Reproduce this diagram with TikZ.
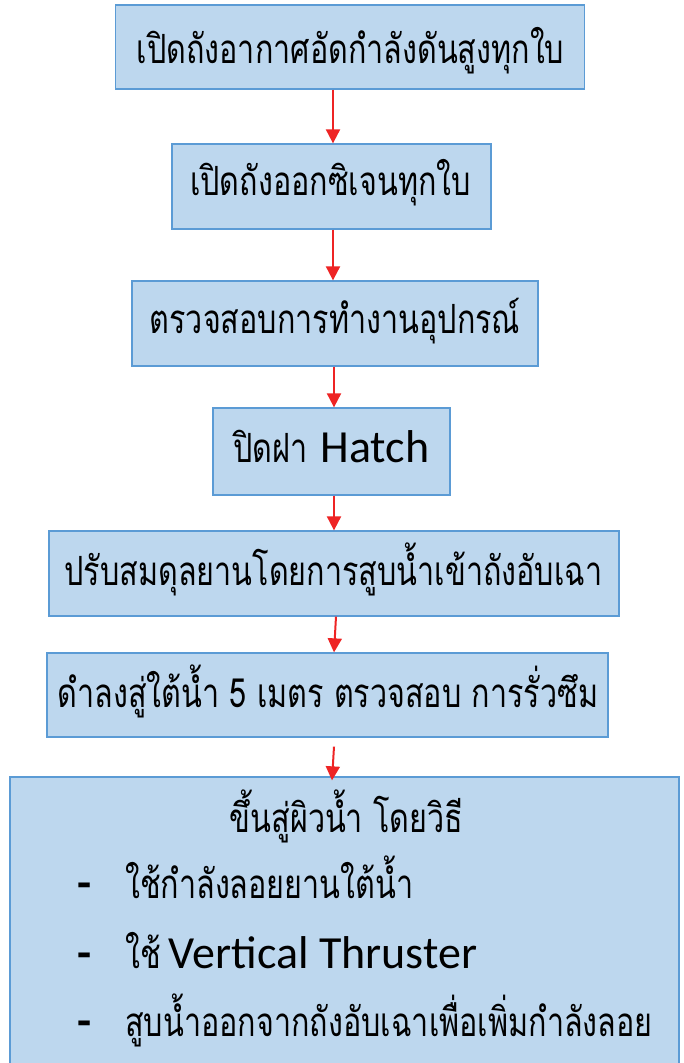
\documentclass[tikz,border=0pt]{standalone}
\usepackage{fontspec}
\setmainfont{Carlito}
\newfontfamily\thai[Script=Thai]{Loma}
\newfontfamily\lat{Carlito}
\usetikzlibrary{arrows.meta}
\definecolor{boxfill}{HTML}{BDD7EE}
\definecolor{boxline}{HTML}{5B9BD5}
\definecolor{arrred}{HTML}{EE2424}
\tikzset{
  flowbox/.style={draw=boxline, line width=1.3pt, fill=boxfill, rectangle, inner sep=0pt},
  txt/.style={anchor=base, inner sep=0pt, text=black},
  arr/.style={draw=arrred, line width=2pt, -{Triangle[length=14pt,width=14pt]}},
}
\newcommand{\thtxt}[1]{\scalebox{1}[1.32]{\thai\fontsize{30.5}{36}\selectfont #1}}
\newcommand{\latxt}[1]{{\lat\fontsize{46}{54}\selectfont #1}}
\begin{document}
\begin{tikzpicture}[x=1pt,y=-1pt]
\useasboundingbox (0,0) rectangle (683,1063);
\clip (0,0) rectangle (683,1063);
\fill[white] (0,0) rectangle (683,1063);
% boxes
\node[flowbox, minimum width=469pt, minimum height=84pt] (b1) at (350,47) {};
\node[flowbox, minimum width=319pt, minimum height=85pt] (b2) at (331.5,186.5) {};
\node[flowbox, minimum width=406pt, minimum height=85pt] (b3) at (335,323.5) {};
\node[flowbox, minimum width=237pt, minimum height=87pt] (b4) at (331.5,451.5) {};
\node[flowbox, minimum width=570pt, minimum height=85pt] (b5) at (334,573.5) {};
\node[flowbox, minimum width=561pt, minimum height=84pt] (b6) at (327.5,695) {};
\node[flowbox, minimum width=669pt, minimum height=300pt] (b7) at (344.5,927) {};
% texts
\node[txt] (t1) at (350.5,63) {\thtxt{เปิดถังอากาศอัดกำลังดันสูงทุกใบ}};
\node[txt] (t2) at (330.5,195) {\thtxt{เปิดถังออกซิเจนทุกใบ}};
\node[txt] (t3) at (335,333) {\thtxt{ตรวจสอบการทำงานอุปกรณ์}};
\node[txt] (t4) at (331.5,462) {\thtxt{ปิดฝา}\hspace{13pt}\latxt{Hatch}};
\node[txt] (t5) at (333.5,585) {\thtxt{ปรับสมดุลยานโดยการสูบน้ำเข้าถังอับเฉา}};
\node[txt] (t6) at (328,707) {\thtxt{ดำลงสู่ใต้น้ำ 5 เมตร ตรวจสอบ การรั่วซึม}};
\node[txt] (t7) at (346.5,832) {\thtxt{ขึ้นสู่ผิวน้ำ โดยวิธี}};
\node[txt] (d1) at (85,898) {\latxt{\bfseries -}};
\node[txt] (d2) at (85,968) {\latxt{\bfseries -}};
\node[txt] (d3) at (85,1036) {\latxt{\bfseries -}};
\node[txt, anchor=base west] (l1) at (125,898) {\thtxt{ใช้กำลังลอยยานใต้น้ำ}};
\node[txt, anchor=base west] (l2) at (125,968) {\thtxt{ใช้}\hspace{8pt}\latxt{Vertical Thruster}};
\node[txt, anchor=base west] (l3) at (125,1036) {\thtxt{สูบน้ำออกจากถังอับเฉาเพื่อเพิ่มกำลังลอย}};
% arrows
\coordinate (x1) at (333,0);
\coordinate (x2) at (333,0);
\coordinate (x3) at (334,0);
\coordinate (x4) at (334,0);
\coordinate (x5a) at (336,0);
\coordinate (x5b) at (334,0);
\coordinate (x6a) at (334,0);
\coordinate (x6b) at (332,0);
\draw[arr] (b1.south -| x1) -- (b2.north -| x1);
\draw[arr] (b2.south -| x2) -- (b3.north -| x2);
\draw[arr] (b3.south -| x3) -- (b4.north -| x3);
\draw[arr] (b4.south -| x4) -- (b5.north -| x4);
\draw[arr] (b5.south -| x5a) -- (b6.north -| x5b);
\draw[arr] ([yshift=-9pt]b6.south -| x6a) -- ([yshift=-4pt]b7.north -| x6b);
\end{tikzpicture}
\end{document}
